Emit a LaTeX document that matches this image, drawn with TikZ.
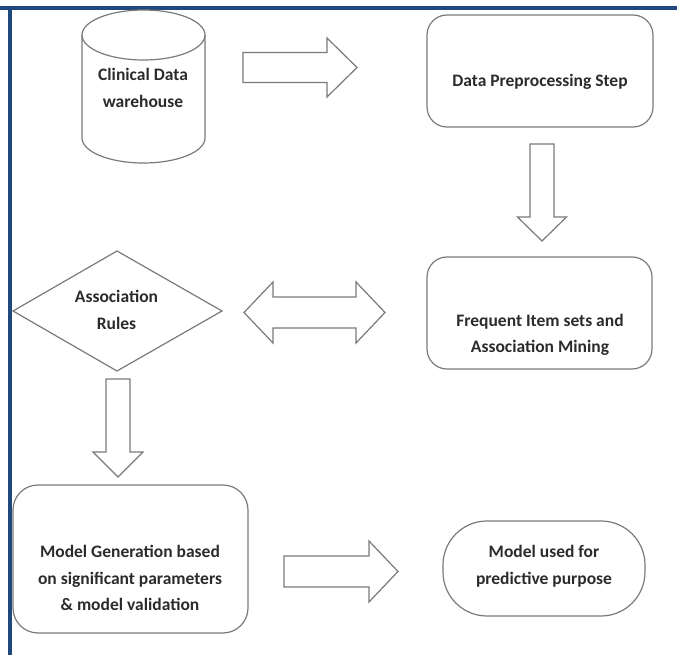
\documentclass[tikz,border=0pt]{standalone}
\usepackage{fontspec}
\setmainfont{Carlito}
\definecolor{linegray}{HTML}{7A7A7A}
\definecolor{textgray}{HTML}{2B2B2B}
\definecolor{frameblue}{HTML}{1F497D}
\begin{document}
\begin{tikzpicture}[x=1pt,y=-1pt,
  shapeline/.style={draw=linegray, line width=1.2pt},
  box/.style={shapeline, rectangle, rounded corners=20pt, inner sep=0pt},
  lbl/.style={text=textgray, font=\bfseries\fontsize{17.5}{26.5}\selectfont, align=center, inner sep=0pt},
  blockarrow/.style={shapeline, line join=miter, fill=white},
  frameline/.style={draw=frameblue, line width=4pt}]
\useasboundingbox (0,0) rectangle (683,655);
% frame
\draw[frameline] (0,8) -- (677,8);
\draw[frameline] (9.5,6) -- (9.5,655);
% cylinder
\draw[shapeline] (82,35) -- (82,138) arc[start angle=180, end angle=0, x radius=61.5, y radius=25] -- (205,35);
\draw[shapeline] (143.5,35) ellipse[x radius=61.5, y radius=25];
\node[lbl] (cdw) at (143,88) {Clinical Data\\warehouse};
% boxes
\node[box, minimum width=226, minimum height=112] (prep) at (540,71) {};
\node[lbl] (preptext) at (540,82) {Data Preprocessing Step};
\node[box, minimum width=225, minimum height=112] (freq) at (539.5,313) {};
\node[lbl] (freqtext) at (540,335) {Frequent Item sets and\\Association Mining};
\node[box, rounded corners=25pt, minimum width=235, minimum height=148] (model) at (130.5,559) {};
\node[lbl] (modeltext) at (130,578) {Model Generation based\\on significant parameters\\\& model validation};
\node[box, rounded corners=44pt, minimum width=202, minimum height=95] (use) at (544,568.5) {};
\node[lbl] (usetext) at (544,566) {Model used for\\predictive purpose};
% diamond
\draw[shapeline] (13,311) -- (117,251) -- (222,311) -- (117,371) -- cycle;
\node[lbl] (rules) at (116.5,310) {Association\\Rules};
% block arrows
\draw[blockarrow] (243,52.5) -- (327,52.5) -- (327,38) -- (357,67.5) -- (327,97) -- (327,82.5) -- (243,82.5) -- cycle;
\draw[blockarrow] (530,144) -- (554,144) -- (554,217) -- (566.5,217) -- (542,241) -- (517.5,217) -- (530,217) -- cycle;
\draw[blockarrow] (244,312.5) -- (273,282) -- (273,297) -- (356,297) -- (356,282) -- (385,312.5) -- (356,343) -- (356,328) -- (273,328) -- (273,343) -- cycle;
\draw[blockarrow] (106,379) -- (130,379) -- (130,452) -- (143,452) -- (118,477) -- (93,452) -- (106,452) -- cycle;
\draw[blockarrow] (284,556) -- (369,556) -- (369,541) -- (398,571.5) -- (369,602) -- (369,587) -- (284,587) -- cycle;
\end{tikzpicture}
\end{document}
